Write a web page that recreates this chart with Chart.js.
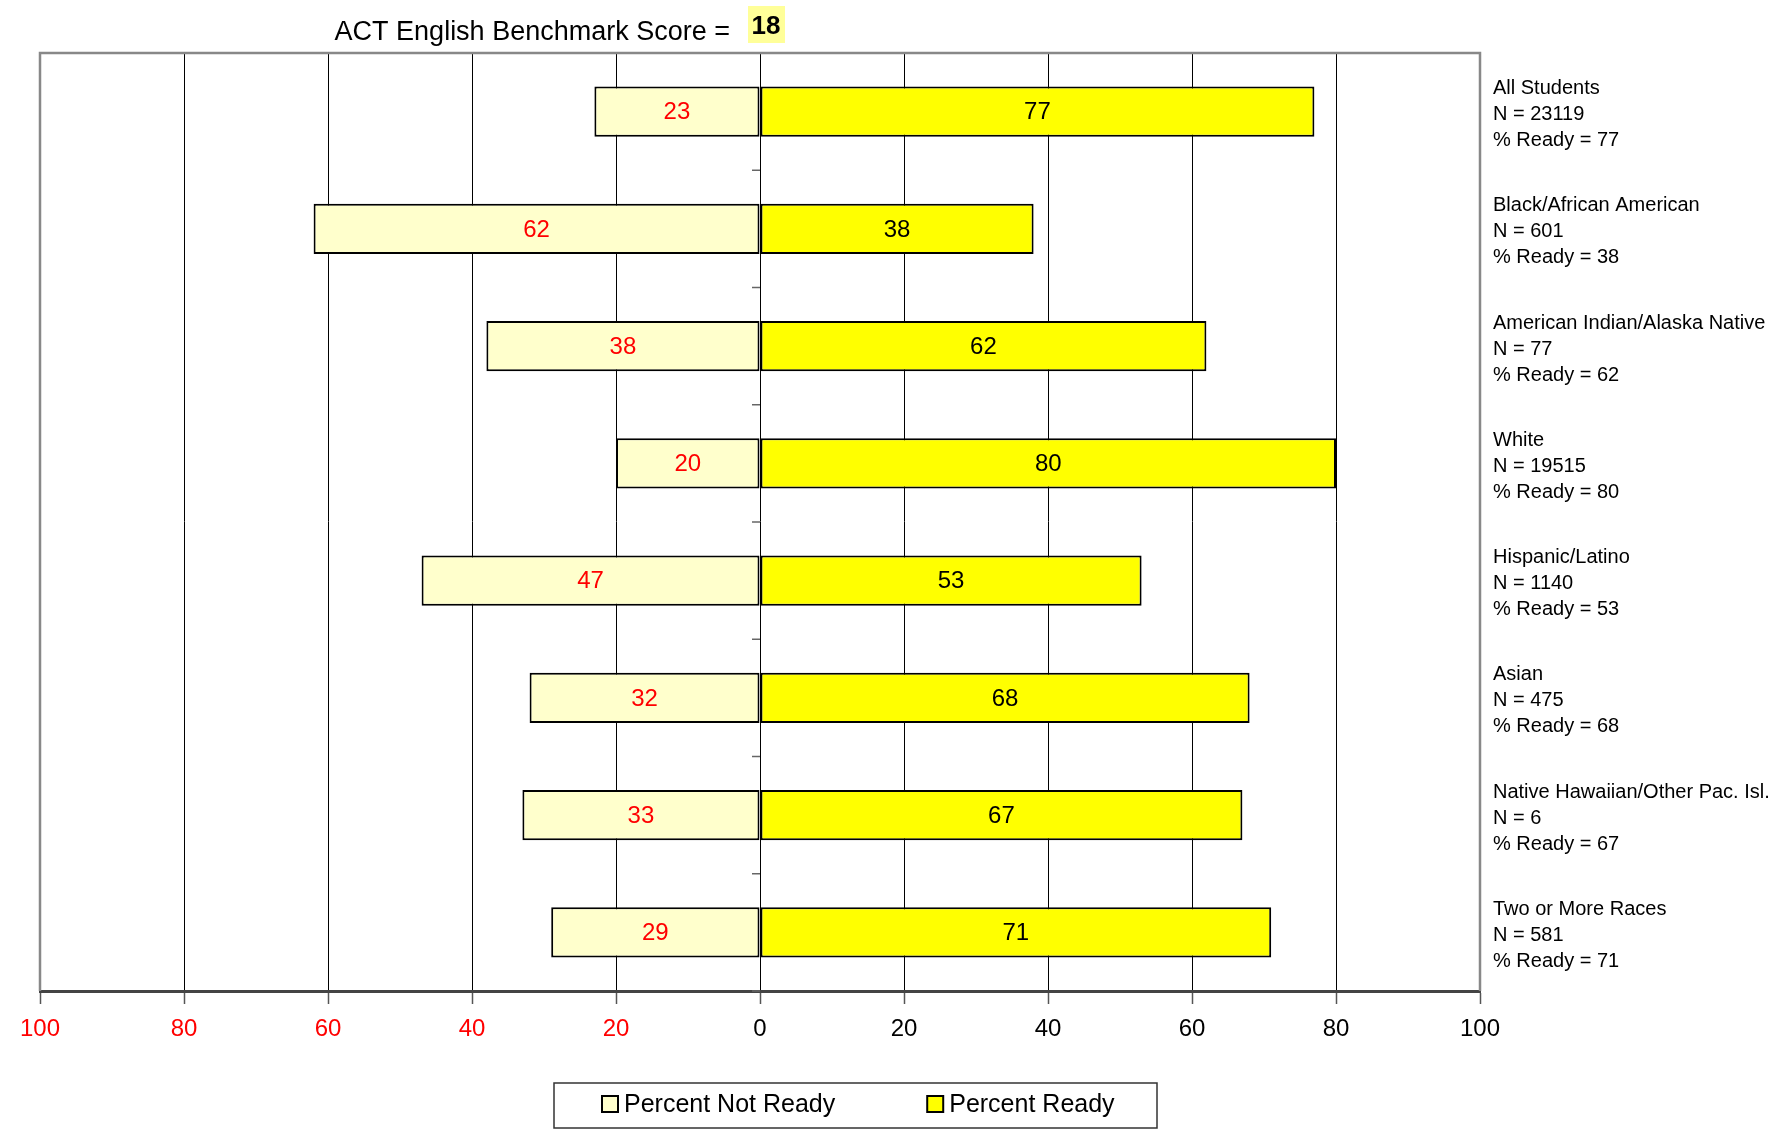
<!DOCTYPE html>
<html>
<head>
<meta charset="utf-8">
<script src="https://cdn.jsdelivr.net/npm/chart.js@4"></script>
<style>
  html, body { margin: 0; padding: 0; background: #fff; }
  #wrap { width: 1781px; height: 1131px; }
</style>
</head>
<body>
<div id="wrap"><canvas id="grafico"></canvas></div>
<script>
const categorias = ['All Students', 'Black/African American', 'American Indian/Alaska Native', 'White',
  'Hispanic/Latino', 'Asian', 'Native Hawaiian/Other Pac. Isl.', 'Two or More Races'];
const contagens = [23119, 601, 77, 19515, 1140, 475, 6, 581];
const naoProntos = [23, 62, 38, 20, 47, 32, 33, 29];
const prontos = [77, 38, 62, 80, 53, 68, 67, 71];
const benchmark = 18;

const fonte = 'Liberation Sans, Arial, sans-serif';

// rotulos de 3 linhas do eixo da direita
const rotulos = categorias.map((c, i) => [c, 'N = ' + contagens[i], '% Ready = ' + prontos[i]]);

const tituloPlugin = {
  id: 'titulo',
  afterDraw(chart) {
    const c = chart.ctx;
    c.save();
    c.font = '27px ' + fonte;
    c.fillStyle = '#000';
    c.textAlign = 'right';
    c.textBaseline = 'middle';
    c.fillText('ACT English Benchmark Score =', 730, 33);
    c.fillStyle = '#ffff99';
    c.fillRect(748, 6, 37, 37);
    c.fillStyle = '#000';
    c.font = 'bold 26px ' + fonte;
    c.textAlign = 'center';
    c.fillText(String(benchmark), 766, 27);
    c.restore();
  }
};

const molduraPlugin = {
  id: 'moldura',
  afterDatasetsDraw(chart) {
    const c = chart.ctx;
    const a = chart.chartArea;
    const x = chart.scales.x, y = chart.scales.y;
    c.save();
    // marcas do eixo de categorias no zero
    const x0 = x.getPixelForValue(0);
    c.strokeStyle = '#666';
    c.lineWidth = 1.5;
    for (let i = 0; i <= categorias.length; i++) {
      let py;
      if (i === 0) py = a.top;
      else if (i === categorias.length) py = a.bottom;
      else py = (y.getPixelForValue(i - 1) + y.getPixelForValue(i)) / 2;
      c.beginPath();
      c.moveTo(x0 - 8, py);
      c.lineTo(x0, py);
      c.stroke();
    }
    // borda da area do grafico
    c.strokeStyle = '#888';
    c.lineWidth = 2.5;
    c.beginPath();
    c.moveTo(a.left, a.bottom);
    c.lineTo(a.left, a.top);
    c.lineTo(a.right, a.top);
    c.lineTo(a.right, a.bottom);
    c.stroke();
    // valores dentro das barras
    c.font = '24px ' + fonte;
    c.textAlign = 'center';
    c.textBaseline = 'middle';
    chart.data.datasets.forEach((ds, di) => {
      const meta = chart.getDatasetMeta(di);
      meta.data.forEach((bar, i) => {
        c.fillStyle = di === 0 ? '#ff0000' : '#000';
        c.fillText(String(Math.abs(ds.data[i])), (bar.x + bar.base) / 2, bar.y + 1);
      });
    });
    c.restore();
  }
};

const legendaPlugin = {
  id: 'legenda',
  afterDraw(chart) {
    const c = chart.ctx;
    c.save();
    c.strokeStyle = '#333';
    c.lineWidth = 1.5;
    c.strokeRect(554, 1083, 603, 45);
    c.font = '25px ' + fonte;
    c.textBaseline = 'middle';
    c.textAlign = 'left';
    let px = 602;
    chart.data.datasets.forEach(ds => {
      c.fillStyle = ds.backgroundColor;
      c.fillRect(px, 1096, 16, 16);
      c.strokeStyle = '#000';
      c.lineWidth = 2;
      c.strokeRect(px, 1096, 16, 16);
      c.fillStyle = '#000';
      c.fillText(ds.label, px + 22, 1105);
      px += 22 + c.measureText(ds.label).width + 92;
    });
    c.restore();
  }
};

const ctx = document.getElementById('grafico');
const grafico = new Chart(ctx, {
  type: 'bar',
  data: {
    labels: rotulos,
    datasets: [{
      label: 'Percent Not Ready',
      data: naoProntos.map(v => -v),
      backgroundColor: '#ffffcc',
      borderColor: '#000',
      borderWidth: 2,
      borderSkipped: false,
      barPercentage: 0.43,
      categoryPercentage: 1
    }, {
      label: 'Percent Ready',
      data: prontos,
      backgroundColor: '#ffff00',
      borderColor: '#000',
      borderWidth: 2,
      borderSkipped: false,
      barPercentage: 0.43,
      categoryPercentage: 1
    }]
  },
  options: {
    indexAxis: 'y',
    responsive: true,
    maintainAspectRatio: false,
    animation: false,
    layout: { padding: { left: 40, top: 53, right: 0, bottom: 80 } },
    plugins: {
      legend: { display: false },
      tooltip: { enabled: false }
    },
    scales: {
      x: {
        stacked: true,
        min: -100,
        max: 100,
        afterFit(scale) { scale.height = 60; },
        ticks: {
          stepSize: 20,
          padding: 11,
          maxRotation: 0,
          font: { family: fonte, size: 24 },
          color: c => c.tick.value < 0 ? '#ff0000' : '#000',
          callback: v => Math.abs(v)
        },
        grid: {
          color: c => (Math.abs(c.tick.value) === 100 ? 'rgba(0,0,0,0)' : '#000'),
          lineWidth: 1,
          drawTicks: true,
          tickLength: 13,
          tickColor: '#555',
          tickWidth: 1.5
        },
        border: { display: true, color: '#444', width: 3 }
      },
      y: {
        stacked: true,
        position: 'right',
        afterFit(scale) { scale.width = 301; },
        ticks: {
          padding: 5,
          labelOffset: 3,
          crossAlign: 'near',
          autoSkip: false,
          color: '#000',
          font: { family: fonte, size: 20, lineHeight: 1.3 }
        },
        grid: { display: false },
        border: { display: false }
      }
    }
  },
  plugins: [tituloPlugin, molduraPlugin, legendaPlugin]
});
</script>
</body>
</html>
